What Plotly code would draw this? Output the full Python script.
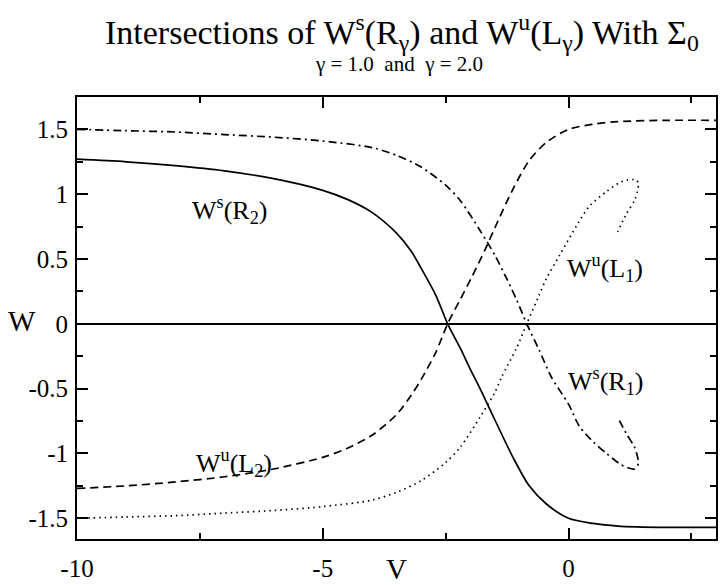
import plotly.graph_objects as go

# ---- data ----
v_solid = [-10, -9, -8, -7, -6, -5, -4.5, -4, -3.5, -3.2, -3, -2.7, -2.46, -2.2, -2, -1.8, -1.5, -1.13, -0.8, -0.45, 0, 0.5, 1, 2, 3]
w_solid = [1.27, 1.25, 1.22, 1.18, 1.12, 1.03, 0.96, 0.86, 0.70, 0.56, 0.43, 0.22, 0.0, -0.19, -0.35, -0.50, -0.74, -1.03, -1.25, -1.39, -1.50, -1.54, -1.56, -1.57, -1.57]

v_dash = [-10, -9, -8, -7, -6, -5, -4.5, -4, -3.5, -3.2, -3, -2.7, -2.46, -2.2, -1.97, -1.7, -1.5, -1.13, -0.8, -0.45, 0, 0.5, 1, 2, 3]
w_dash = [-1.27, -1.25, -1.22, -1.18, -1.12, -1.03, -0.96, -0.86, -0.70, -0.55, -0.43, -0.22, 0.0, 0.19, 0.36, 0.57, 0.74, 1.04, 1.26, 1.40, 1.50, 1.54, 1.56, 1.57, 1.57]

v_dashdot = [-10, -9, -8, -7, -6, -5, -4, -3.5, -3, -2.5, -2.2, -1.8, -1.5, -1.26, -1.05, -0.85, -0.6, -0.35, 0, 0.22, 0.5, 0.77, 1.04, 1.2, 1.34, 1.42, 1.40, 1.34, 1.18, 1.0]
w_dashdot = [1.50, 1.49, 1.48, 1.46, 1.44, 1.41, 1.36, 1.30, 1.21, 1.07, 0.95, 0.72, 0.53, 0.35, 0.18, 0.0, -0.2, -0.41, -0.62, -0.79, -0.91, -1.0, -1.08, -1.11, -1.12, -1.08, -1.02, -0.95, -0.85, -0.72]

v_dot = [-10, -9, -8, -7, -6, -5, -4, -3.5, -3, -2.5, -2.2, -1.8, -1.5, -1.36, -1.05, -0.85, -0.6, -0.45, -0.18, 0.2, 0.43, 0.77, 1.04, 1.2, 1.38, 1.42, 1.40, 1.34, 1.18, 1.0]
w_dot = [-1.50, -1.49, -1.48, -1.46, -1.44, -1.41, -1.36, -1.30, -1.21, -1.07, -0.95, -0.72, -0.53, -0.41, -0.18, 0.0, 0.22, 0.35, 0.53, 0.78, 0.91, 1.02, 1.09, 1.11, 1.11, 1.08, 1.02, 0.95, 0.85, 0.71]

labels = ["W<sup>s</sup>(R<sub>2</sub>)", "W<sup>u</sup>(L<sub>2</sub>)", "W<sup>s</sup>(R<sub>1</sub>)", "W<sup>u</sup>(L<sub>1</sub>)"]
label_v = [-6.9, -6.8, 0.75, 0.75]
label_w = [0.88, -1.07, -0.44, 0.43]

x_tickvals = [-10, -5, 0]
x_ticktext = ["-10", "-5", "0"]
y_tickvals = [-1.5, -1, -0.5, 0, 0.5, 1, 1.5]
y_ticktext = ["-1.5", "-1", "-0.5", "0", "0.5", "1", "1.5"]

x_range = [-10, 3]
y_range = [-1.66, 1.75]

FONT = "Liberation Serif"

fig = go.Figure()
series = [
    (v_solid, w_solid, "solid"),
    (v_dash, w_dash, "8px,5px"),
    (v_dashdot, w_dashdot, "8px,4px,2px,4px"),
    (v_dot, w_dot, "1.5px,4px"),
]
for vx, wy, dash in series:
    fig.add_trace(go.Scatter(x=vx, y=wy, mode="lines",
                             line=dict(color="black", width=1.7, dash=dash, shape="spline", smoothing=0.8),
                             showlegend=False, hoverinfo="skip"))

for t, lv, lw in zip(labels, label_v, label_w):
    fig.add_annotation(x=lv, y=lw, text=t, showarrow=False,
                       font=dict(family=FONT, size=26, color="black"))

axis_common = dict(showline=True, linecolor="black", linewidth=2, mirror="ticks",
                   ticks="inside", ticklen=11, tickwidth=1.5, tickcolor="black",
                   showgrid=False, tickfont=dict(family=FONT, size=25, color="black"))

fig.update_xaxes(range=x_range, tickmode="array", tickvals=x_tickvals, ticktext=x_ticktext,
                 zeroline=False, ticklabelstandoff=6,
                 minor=dict(ticks="inside", ticklen=6, dtick=2.5, tick0=0, tickcolor="black", showgrid=False),
                 **axis_common)
fig.update_yaxes(range=y_range, tickmode="array", tickvals=y_tickvals, ticktext=y_ticktext,
                 zeroline=True, zerolinecolor="black", zerolinewidth=1.5, ticklabelstandoff=2,
                 minor=dict(ticks="inside", ticklen=6, dtick=0.25, tick0=0, tickcolor="black", showgrid=False),
                 **axis_common)

# axis titles as annotations (W is horizontal in the reference)
fig.add_annotation(xref="paper", yref="y", x=-0.086, y=0.02, text="W", showarrow=False,
                   font=dict(family=FONT, size=29, color="black"), xanchor="center", yanchor="middle")
fig.add_annotation(xref="paper", yref="paper", x=0.5, y=-0.069, text="V", showarrow=False,
                   font=dict(family=FONT, size=29, color="black"), xanchor="center", yanchor="middle")

fig.add_annotation(xref="paper", yref="paper", x=0.509, y=1.147,
                   text="Intersections of W<sup>s</sup>(R<sub>γ</sub>) and W<sup>u</sup>(L<sub>γ</sub>) With Σ<sub>0</sub>",
                   showarrow=False, font=dict(family=FONT, size=34, color="black"), xanchor="center", yanchor="middle")
fig.add_annotation(xref="paper", yref="paper", x=0.504, y=1.074,
                   text="γ = 1.0  and  γ = 2.0",
                   showarrow=False, font=dict(family=FONT, size=21, color="black"), xanchor="center", yanchor="middle")

fig.update_layout(width=721, height=585, margin=dict(l=77, r=3, t=97, b=41),
                  paper_bgcolor="white", plot_bgcolor="white", font=dict(family=FONT))

fig.write_html("out.html")
